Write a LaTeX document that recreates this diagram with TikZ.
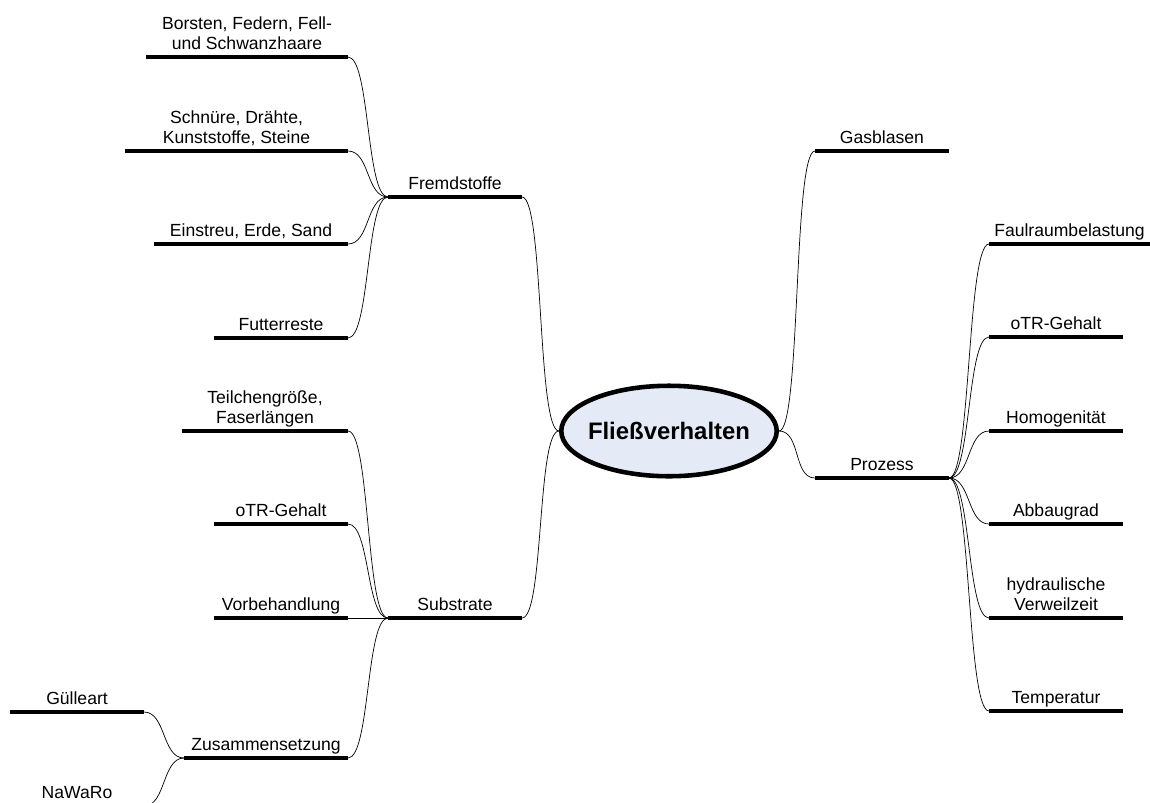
\documentclass[tikz,border=0pt]{standalone}
\usepackage{fontspec}
\setmainfont{Liberation Sans}
\usetikzlibrary{shapes.geometric}
\definecolor{bubble}{HTML}{E5EBF6}
\begin{document}
\begin{tikzpicture}[x=0.02cm, y=-0.02cm,
    font=\fontsize{10}{11.6}\selectfont,
    topic/.style={inner xsep=0pt, inner ysep=4pt, outer sep=0pt, align=center,
      text depth=0pt, minimum width=2.68cm,
      append after command={(\tikzlastnode.south west) edge[line width=2.3pt] (\tikzlastnode.south east)}},
    toleft/.style={line width=0.6pt, to path={.. controls +(-22,0) and +(22,0) .. (\tikztotarget)}},
    toright/.style={line width=0.6pt, to path={.. controls +(22,0) and +(-22,0) .. (\tikztotarget)}}]
  \clip (0,0) rectangle (1150,802);
  \node[ellipse, draw, line width=2.6pt, fill=bubble, minimum width=4.31cm, minimum height=1.81cm,
    inner xsep=-4pt, inner ysep=0pt, font=\fontsize{13.6}{16}\selectfont\bfseries] (main) at (669,431) {Fließverhalten};

  \node[topic, anchor=south west] (fremd) at (388,197) {Fremdstoffe};
  \node[topic, anchor=south west] (subst) at (388,618) {Substrate};
  \node[topic, anchor=south west] (gas) at (815,151) {Gasblasen};
  \node[topic, anchor=south west] (proz) at (815,478) {Prozess};

  \node[topic, anchor=south east, minimum width=4.04cm] (borsten) at (348,57) {Borsten, Federn, Fell-\\und Schwanzhaare};
  \node[topic, anchor=south east, minimum width=4.46cm] (schnuere) at (348,151) {Schnüre, Drähte,\\Kunststoffe, Steine};
  \node[topic, anchor=south east, minimum width=3.88cm] (einstreu) at (348,244) {Einstreu, Erde, Sand};
  \node[topic, anchor=south east] (futter) at (348,338) {Futterreste};

  \node[topic, anchor=south east, minimum width=3.32cm] (teilchen) at (348,431) {Teilchengröße,\\Faserlängen};
  \node[topic, anchor=south east] (otrsub) at (348,524) {oTR-Gehalt};
  \node[topic, anchor=south east] (vorbeh) at (348,618) {Vorbehandlung};
  \node[topic, anchor=south east, minimum width=3.28cm] (zusammen) at (348,758) {Zusammensetzung};
  \node[topic, anchor=south east] (guelle) at (144,712) {Gülleart};
  \node[topic, anchor=south east] (nawaro) at (144,806) {NaWaRo};

  \node[topic, anchor=south west, minimum width=3.22cm] (faul) at (989,244) {Faulraumbelastung};
  \node[topic, anchor=south west] (otrproz) at (989,337) {oTR-Gehalt};
  \node[topic, anchor=south west] (homog) at (989,431) {Homogenität};
  \node[topic, anchor=south west] (abbau) at (989,524) {Abbaugrad};
  \node[topic, anchor=south west] (hydr) at (989,618) {hydraulische\\Verweilzeit};
  \node[topic, anchor=south west] (temp) at (989,711) {Temperatur};

  \draw (main.west) to[toleft] (fremd.south east);
  \draw (main.west) to[toleft] (subst.south east);
  \draw (main.east) to[toright] (gas.south west);
  \draw (main.east) to[toright] (proz.south west);
  \foreach \n in {borsten,schnuere,einstreu,futter}
    \draw (fremd.south west) to[toleft] (\n.south east);
  \foreach \n in {teilchen,otrsub,vorbeh,zusammen}
    \draw (subst.south west) to[toleft] (\n.south east);
  \foreach \n in {guelle,nawaro}
    \draw (zusammen.south west) to[toleft] (\n.south east);
  \foreach \n in {faul,otrproz,homog,abbau,hydr,temp}
    \draw (proz.south east) to[toright] (\n.south west);
\end{tikzpicture}
\end{document}
